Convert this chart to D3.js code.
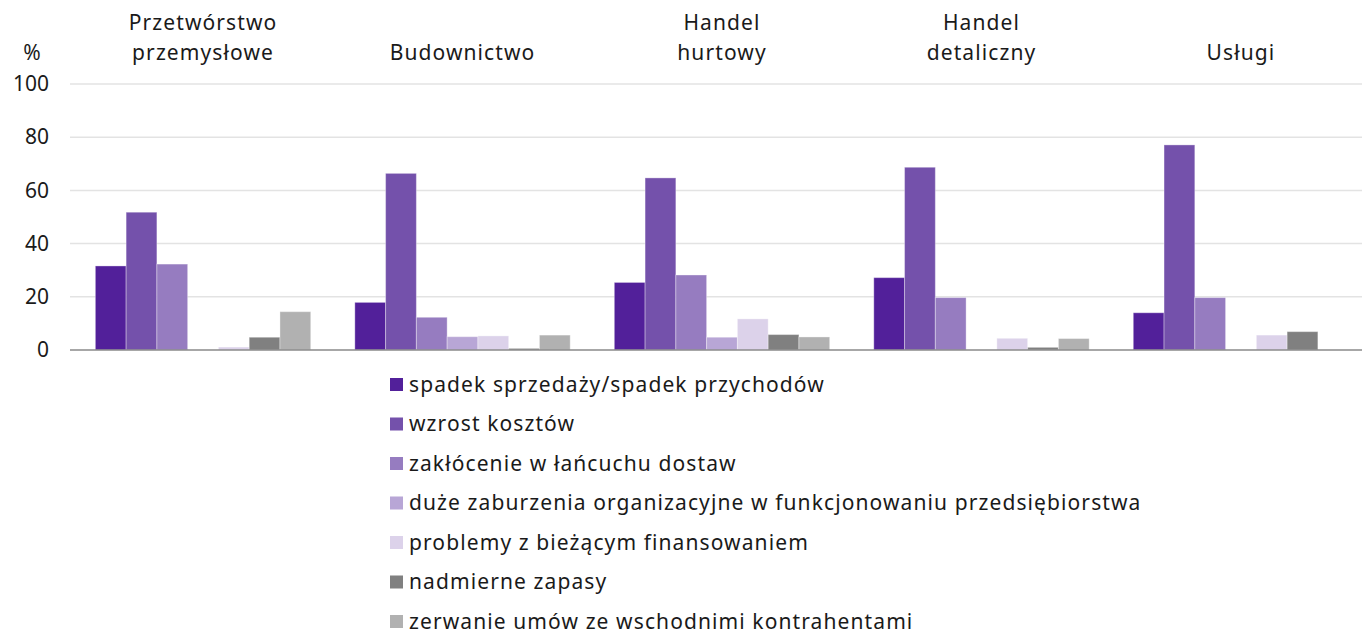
<!DOCTYPE html>
<html><head><meta charset="utf-8">
<script src="https://cdn.jsdelivr.net/npm/d3@7"></script>
<style>body{margin:0;background:#fff}svg{display:block}text{font-family:"Noto Sans",sans-serif;fill:#1a1a1a}</style>
</head><body><svg id="c" width="1362" height="630"></svg>
<script>
const categories = [["Przetwórstwo","przemysłowe"],["Budownictwo"],["Handel","hurtowy"],["Handel","detaliczny"],["Usługi"]];
const seriesNames = ["spadek sprzedaży/spadek przychodów","wzrost kosztów","zakłócenie w łańcuchu dostaw","duże zaburzenia organizacyjne w funkcjonowaniu przedsiębiorstwa","problemy z bieżącym finansowaniem","nadmierne zapasy","zerwanie umów ze wschodnimi kontrahentami"];
const colors = ["#52209a","#7451ab","#967cc0","#b8a6d6","#dcd2ea","#808080","#b1b1b1"];
const s1 = [31.6, 17.9, 25.4, 27.2, 14.0];
const s2 = [51.8, 66.4, 64.7, 68.7, 77.1];
const s3 = [32.3, 12.3, 28.2, 19.7, 19.7];
const s4 = [0, 5.0, 4.8, 0, 0];
const s5 = [1.1, 5.3, 11.7, 4.4, 5.6];
const s6 = [4.8, 0.6, 5.8, 1.0, 6.9];
const s7 = [14.4, 5.6, 4.9, 4.3, 0];
const yTicks = [0, 20, 40, 60, 80, 100];
const series = [s1,s2,s3,s4,s5,s6,s7];

const svg = d3.select("#c");
const y = d3.scaleLinear().domain([0,100]).range([350,84]);
const x0 = d3.scaleBand().domain(d3.range(categories.length)).range([72,1372]).paddingInner(0.17).paddingOuter(0.09);
const x1 = d3.scaleBand().domain(d3.range(series.length)).range([0,x0.bandwidth()]);

// gridlines
svg.append("g").selectAll("line").data(yTicks.filter(d=>d>0)).join("line")
  .attr("x1",70).attr("x2",1362).attr("y1",d=>y(d)).attr("y2",d=>y(d))
  .attr("stroke","#e3e3e3").attr("stroke-width",1.5);

// y axis labels
const yAxis = d3.axisLeft(y).tickValues(yTicks).tickSize(0).tickPadding(0);
const ga = svg.append("g").attr("transform","translate(49,0)").call(yAxis);
ga.select(".domain").remove();
ga.selectAll("text").attr("font-size",21).style("font-family","'Noto Sans',sans-serif").attr("fill","#1a1a1a");
svg.append("text").attr("x",32).attr("y",60).attr("text-anchor","middle").attr("font-size",21).text("%");

// bars
const groups = svg.append("g").selectAll("g").data(categories).join("g")
  .attr("transform",(d,i)=>`translate(${x0(i)},0)`);
groups.selectAll("rect").data((d,i)=>series.map((s,j)=>({j,v:s[i]}))).join("rect")
  .filter(d=>d.v>0)
  .attr("x",d=>x1(d.j)).attr("width",x1.bandwidth())
  .attr("y",d=>y(d.v)).attr("height",d=>y(0)-y(d.v))
  .attr("fill",d=>colors[d.j]).attr("stroke","#ffffff").attr("stroke-opacity",0.35).attr("stroke-width",1);

// group titles
groups.each(function(d){
  const g = d3.select(this);
  const cx = x0.bandwidth()/2;
  d.forEach((line,k)=>{
    g.append("text").attr("x",cx).attr("y",60 - (d.length-1-k)*30)
      .attr("text-anchor","middle").attr("font-size",21).attr("letter-spacing",1.1).text(line);
  });
});

// zero axis
svg.append("line").attr("x1",70).attr("x2",1362).attr("y1",y(0)).attr("y2",y(0)).attr("stroke","#8a8a8a").attr("stroke-width",1.5);

// legend
const lg = svg.append("g").selectAll("g").data(seriesNames).join("g")
  .attr("transform",(d,i)=>`translate(390,${384.5 + i*39.5})`);
lg.append("rect").attr("x",0).attr("y",-6.5).attr("width",13).attr("height",13).attr("fill",(d,i)=>colors[i]);
lg.append("text").attr("x",19).attr("y",7).attr("font-size",21).attr("letter-spacing",1.1).text(d=>d);
</script></body></html>
